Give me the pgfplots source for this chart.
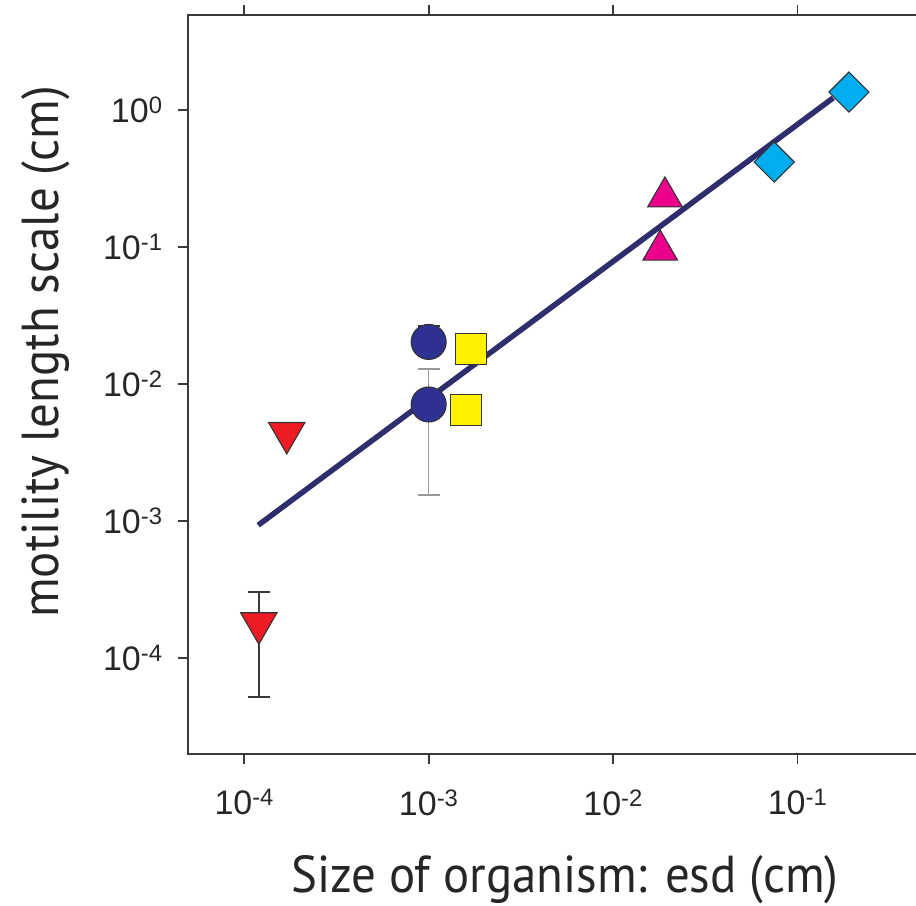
\documentclass[border=0pt]{standalone}
\usepackage{fontspec}
\usepackage{pgfplots}
\pgfplotsset{compat=1.18}
\setmainfont{Liberation Sans}
\newfontfamily\labfont[FakeStretch=0.94]{PT Sans}
\definecolor{axgray}{HTML}{3A3A3A}
\definecolor{cred}{HTML}{ED1C24}
\definecolor{cyel}{HTML}{FFF200}
\definecolor{cnavy}{HTML}{2E3192}
\definecolor{cmag}{HTML}{EC008C}
\definecolor{ccyan}{HTML}{00AEEF}
\definecolor{cline}{HTML}{2D2E6B}
\definecolor{outl}{HTML}{333333}
\begin{document}
\begin{tikzpicture}[x=1bp,y=1bp]
\begin{axis}[
  at={(188bp,152bp)}, anchor=south west,
  scale only axis, width=732bp, height=739bp,
  xmode=log, ymode=log,
  xmin=4.955e-5, xmax=0.461, ymin=2.0e-5, ymax=4.93,
  axis line style={axgray, line width=1.8bp},
  tick style={axgray, line width=1.8bp},
  tick align=outside, major tick length=10bp,
  xminorticks=false, yminorticks=false,
  xtick={1e-4,1e-3,1e-2,1e-1},
  xticklabels={10\textsuperscript{-4},10\textsuperscript{-3},10\textsuperscript{-2},10\textsuperscript{-1}},
  ytick={1e-4,1e-3,1e-2,1e-1,1},
  yticklabels={10\textsuperscript{-4},10\textsuperscript{-3},10\textsuperscript{-2},10\textsuperscript{-1},10\textsuperscript{0}},
  xtick pos=both, xticklabel pos=lower, ytick pos=left,
  ticklabel style={font=\fontsize{34bp}{34bp}\selectfont, text={black!85}},
  xticklabel style={yshift=-22bp},
  yticklabel style={xshift=-12bp},
  xlabel={Size of organism: esd (cm)},
  ylabel={motility length scale (cm)},
  label style={font=\labfont\fontsize{52bp}{52bp}\selectfont, text={black!85}},
  xlabel style={at={(axis description cs:0.515,-0.1705)}, anchor=center},
  ylabel style={at={(axis description cs:-0.195,0.544)}, anchor=center},
  clip=false,
]
% fit line
\addplot[cline, line width=5.5bp, no marks] coordinates {(1.19e-4,9.34e-4) (0.156,1.225)};
% red down triangles
\addplot[only marks, mark=triangle*, mark size=21bp,
  mark options={rotate=180, fill=cred, draw=outl, line width=1.1bp},
  error bars/.cd, y dir=both, y explicit,
  error bar style={axgray, line width=1.6bp}, error mark options={rotate=90, mark size=11bp, axgray, line width=1.6bp}]
  coordinates {(1.20e-4,1.80e-4) += (0,1.23e-4) -= (0,1.28e-4)};
\addplot[only marks, mark=triangle*, mark size=21bp,
  mark options={rotate=180, fill=cred, draw=outl, line width=1.1bp}]
  coordinates {(1.70e-4,4.4e-3)};
% navy circles with error bars
\addplot[only marks, mark=*, mark size=17.5bp,
  mark options={fill=cnavy, draw=outl, line width=1.1bp},
  error bars/.cd, y dir=both, y explicit,
  error bar style={gray!80, line width=1.6bp}, error mark options={rotate=90, mark size=11bp, gray!80, line width=1.6bp}]
  coordinates {(1e-3,7.1e-3) += (0,5.8e-3) -= (0,5.55e-3)};
\addplot[only marks, mark=*, mark size=17.5bp,
  mark options={fill=cnavy, draw=outl, line width=1.1bp},
  error bars/.cd, y dir=plus, y explicit,
  error bar style={axgray, line width=1.6bp}, error mark options={rotate=90, mark size=11bp, axgray, line width=1.6bp}]
  coordinates {(1e-3,2.03e-2) += (0,6.2e-3) -= (0,0)};
% yellow squares
\addplot[only marks, mark=square*, mark size=15.5bp,
  mark options={fill=cyel, draw=outl, line width=1.1bp}]
  coordinates {(1.69e-3,1.8e-2) (1.59e-3,6.46e-3)};
% magenta triangles
\addplot[only marks, mark=triangle*, mark size=20bp,
  mark options={fill=cmag, draw=outl, line width=1.1bp}]
  coordinates {(1.91e-2,0.232) (1.80e-2,0.095)};
% cyan diamonds
\addplot[only marks, mark=square*, mark size=14.2bp,
  mark options={rotate=45, fill=ccyan, draw=outl, line width=1.1bp}]
  coordinates {(0.0747,0.417) (0.19,1.35)};
\end{axis}
\pgfresetboundingbox
\useasboundingbox (0,0) rectangle (916bp,906bp);
\end{tikzpicture}
\end{document}
